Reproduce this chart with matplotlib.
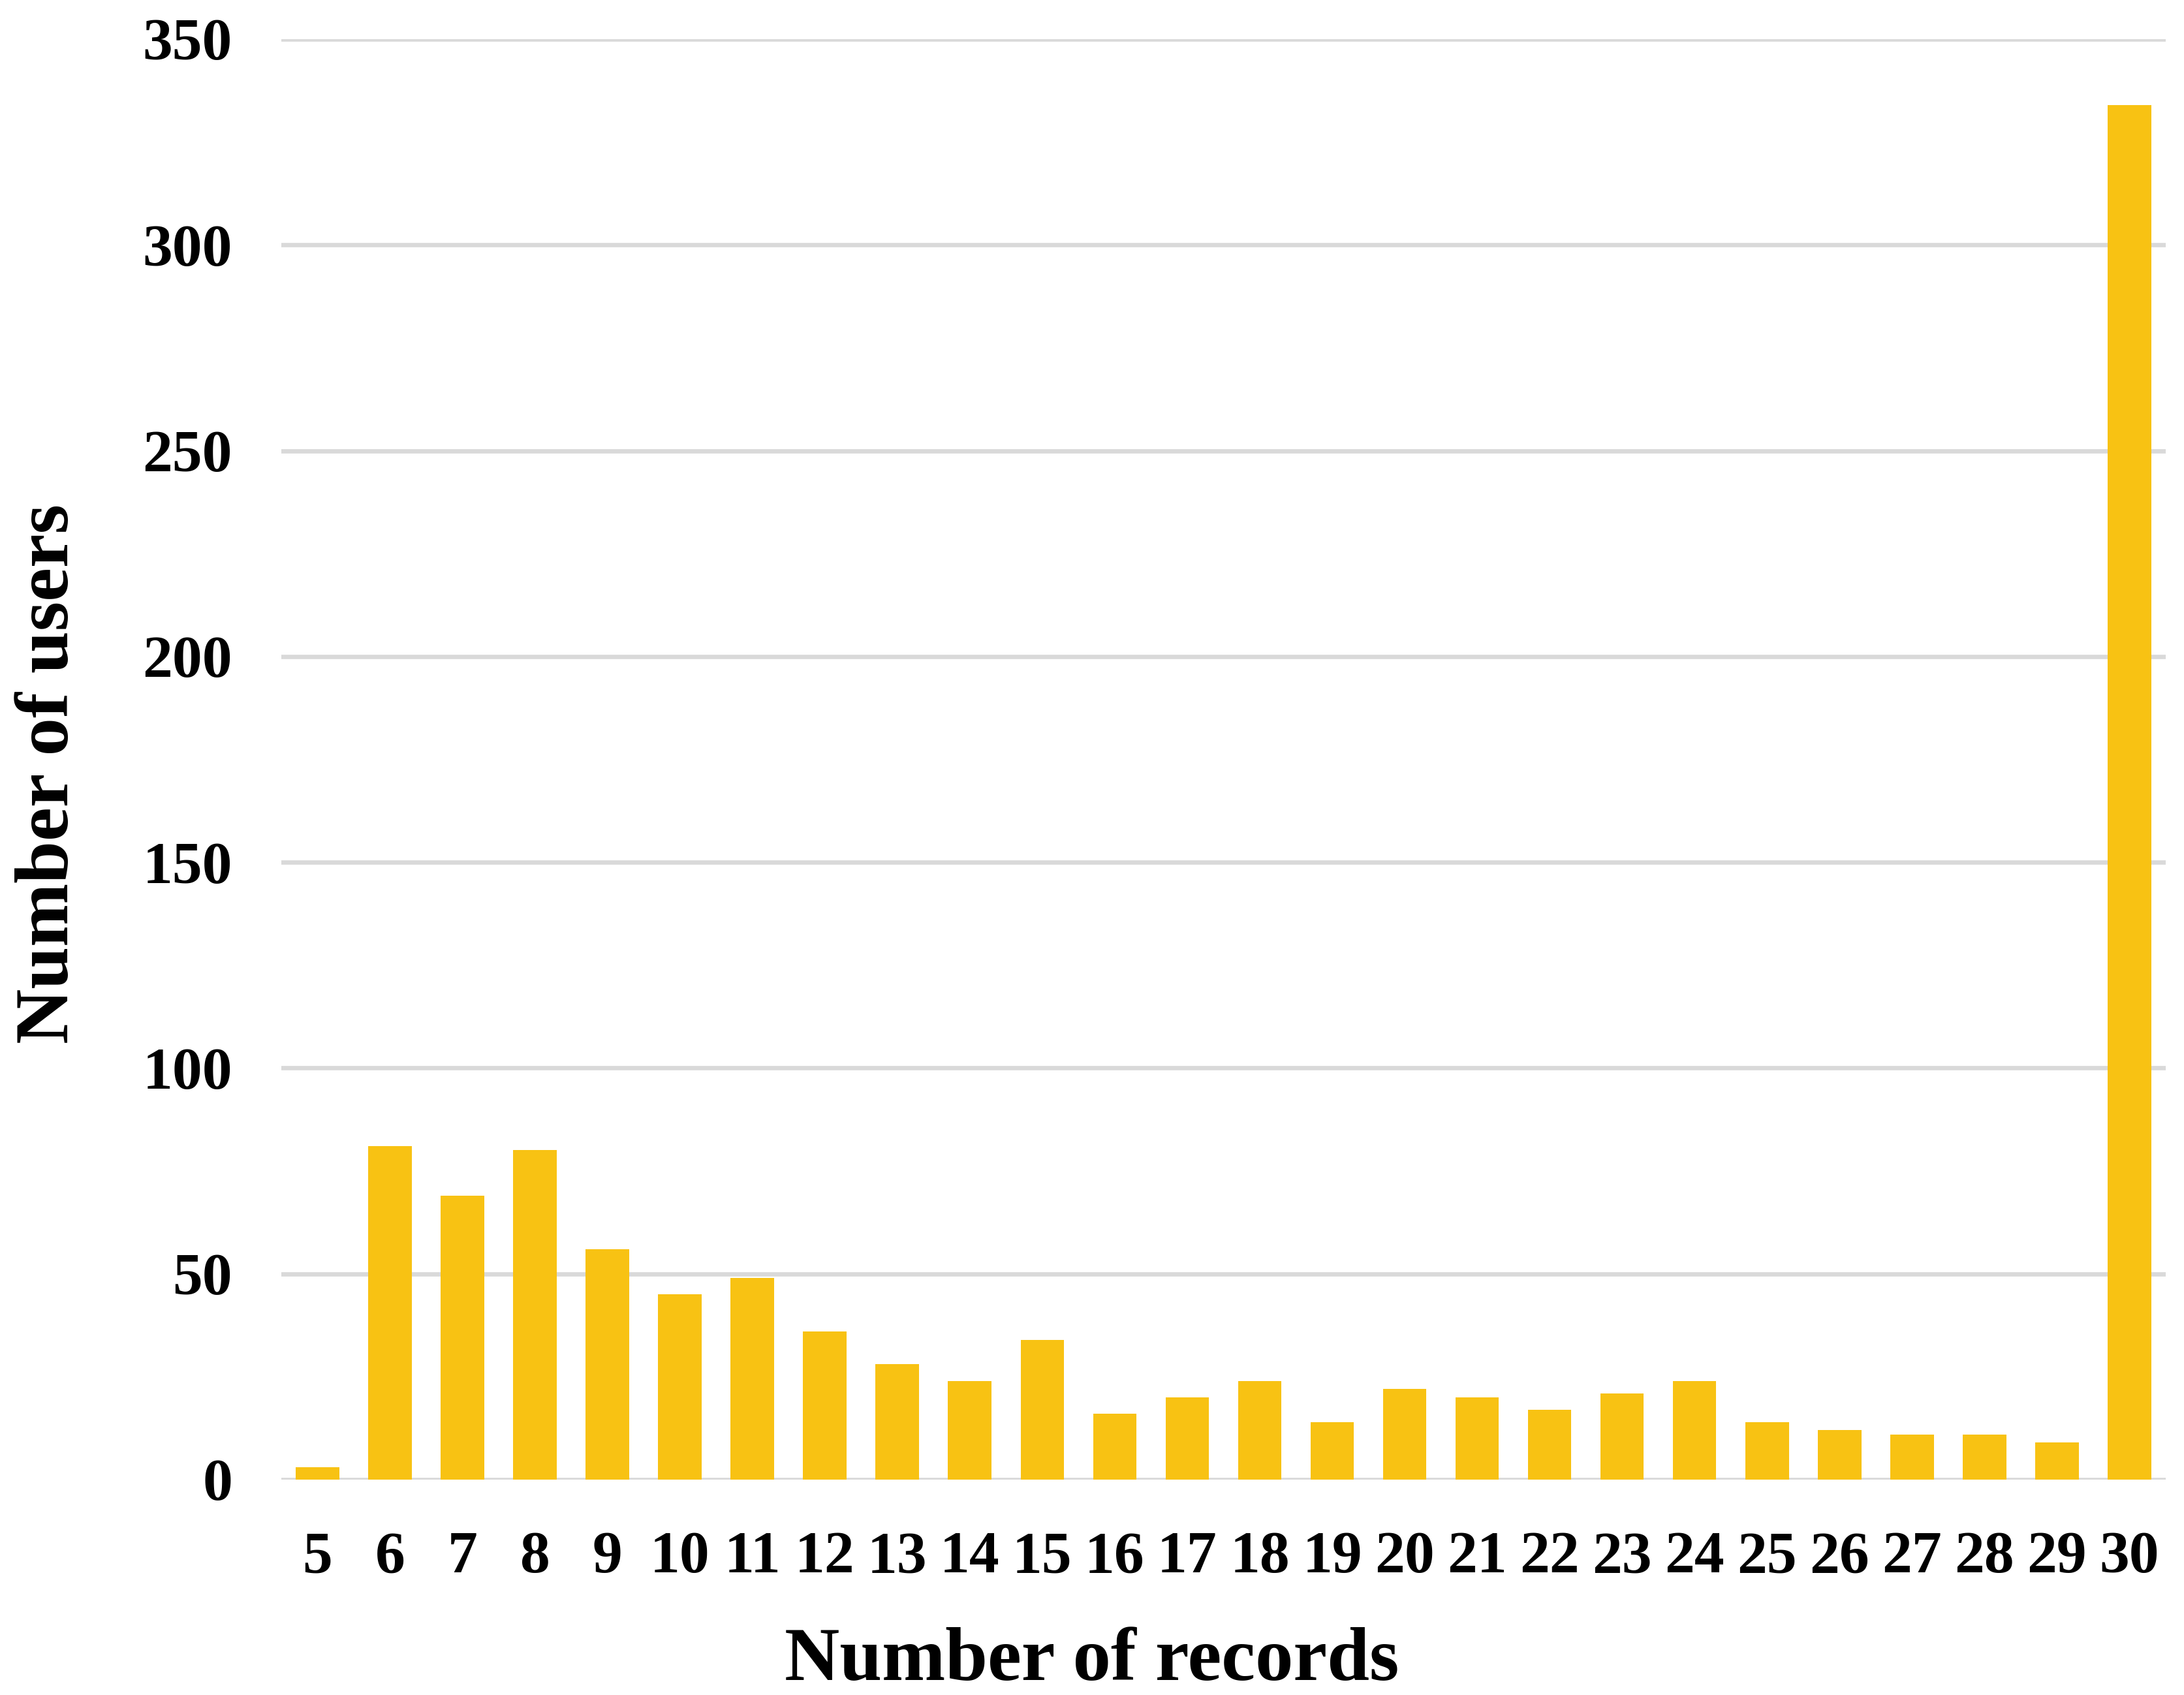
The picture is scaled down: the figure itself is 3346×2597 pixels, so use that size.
"""Bar chart: number of users by number of records."""

import matplotlib
matplotlib.use("Agg")
import matplotlib.pyplot as plt

records = [str(n) for n in range(5, 31)]
users = [3, 81, 69, 80, 56, 45, 49, 36, 28, 24, 34, 16, 20, 24, 14, 22,
         20, 17, 21, 24, 14, 12, 11, 11, 9, 334]
y_ticks = [0, 50, 100, 150, 200, 250, 300, 350]

BAR_COLOR = "#F8C213"
GRID_COLOR = "#D9D9D9"


def main():
    plt.rcParams["font.family"] = ["Liberation Serif", "DejaVu Serif"]
    plt.rcParams["font.weight"] = "bold"

    fig = plt.figure(figsize=(3346 / 300, 2597 / 300), dpi=300)
    ax = fig.add_axes([0.1288, 0.1271, 0.8628, 0.8498])

    x = range(len(records))
    ax.bar(x, users, width=0.6, color=BAR_COLOR, zorder=3)

    ax.set_xlim(-0.5, len(records) - 0.5)
    ax.set_ylim(0, 350)
    ax.set_yticks(y_ticks)
    ax.set_xticks(list(x))
    ax.set_xticklabels(records)

    ax.grid(axis="y", color=GRID_COLOR, linewidth=1.6, zorder=0)
    ax.set_axisbelow(True)
    for s in ax.spines.values():
        s.set_visible(False)
    ax.tick_params(axis="both", length=0, labelsize=22)
    ax.tick_params(axis="x", pad=19)
    ax.tick_params(axis="y", pad=18)
    for lbl in ax.get_xticklabels() + ax.get_yticklabels():
        lbl.set_fontweight("bold")

    ax.set_ylabel("Number of users", fontsize=28, fontweight="bold")
    ax.yaxis.set_label_coords(-0.123, 0.49)
    ax.yaxis.label.set_verticalalignment("center")

    fig.text(0.5, 1 - 2546 / 2597, "Number of records", fontsize=28,
             fontweight="bold", ha="center", va="center")

    fig.savefig("out.png", dpi=300, facecolor="white")


if __name__ == "__main__":
    main()
